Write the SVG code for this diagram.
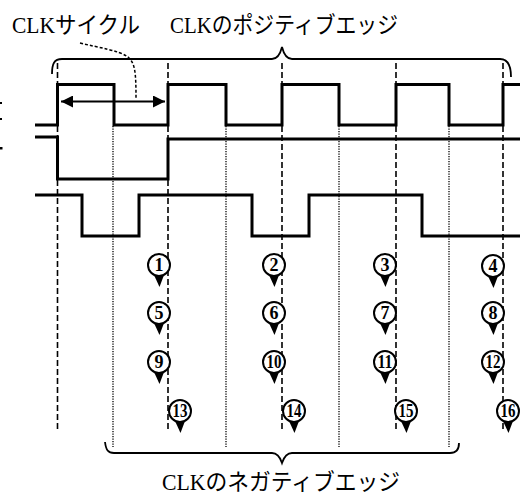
<svg xmlns="http://www.w3.org/2000/svg" xmlns:xlink="http://www.w3.org/1999/xlink" width="520" height="495" viewBox="0 0 520 495">
<style>
.sig{fill:none;stroke:#000;stroke-width:3;stroke-linejoin:miter;stroke-linecap:butt}
.dash{fill:none;stroke:#000;stroke-width:1.6;stroke-dasharray:6 3}
.dot{fill:none;stroke:#000;stroke-width:1.3;stroke-dasharray:1.3 1.2}
.brace{fill:none;stroke:#000;stroke-width:1.8}
.lbl{font-family:'Liberation Serif','Noto Sans CJK JP',serif;font-size:23px;fill:#000}
.num{font-family:'Liberation Serif',serif;font-weight:bold;font-size:18px;fill:#000;text-anchor:middle}
.pc{fill:#fff;stroke:#000;stroke-width:2}
</style>
<defs>
<g id="pinShape">
<path d="M-5,10 L5,10 L0.5,22 Z" fill="#000"/>
<circle cx="0" cy="0" r="11" class="pc"/>
</g>
<marker id="ah" viewBox="0 0 12 12" refX="12" refY="6" markerWidth="12" markerHeight="12" markerUnits="userSpaceOnUse" orient="auto-start-reverse">
<path d="M0,0 L12,6 L0,12 Z" fill="#000"/>
</marker>
</defs>
<rect width="520" height="495" fill="#fff"/>

<g id="edges">
<path class="dash" d="M57.5,63 V431 M168,63 V431 M282,63 V431 M396,63 V431 M503,63 V431"/>
<path class="dot" d="M113,126 V447 M226,126 V447 M339,126 V447 M449,126 V447"/>
</g>

<g id="signals">
<path id="clk" class="sig" d="M35,125 H57.5 V84.5 H114 V125 H168 V84.5 H226 V125 H282 V84.5 H339 V125 H396 V84.5 H449 V125 H503 V84.5 H522"/>
<path id="sig2" class="sig" d="M35,137 H57.5 V179 H168 V139 H522"/>
<path id="sig3" class="sig" d="M35,195 H82 V236 H139 V195 H252 V236 H309 V195 H422 V236 H522"/>
</g>

<g id="connectors">
<path class="brace" d="M52,74 C52,64 54,59 62,59 H272 C277,59 280,55 282,47 C284,55 287,59 292,59 H500 C507,59 511,65 511,77"/>
<path class="brace" d="M105,442 C106,450 108,453 114,453 H272 C277,453 280,457 282,463 C284,457 287,453 292,453 H450 C456,453 459,450 459,443"/>
<line x1="61" y1="101.5" x2="165" y2="101.5" stroke="#000" stroke-width="2" marker-start="url(#ah)" marker-end="url(#ah)"/>
<path d="M80,43 C100,48 118,50 128,57 C135,63 136,72 136,98" fill="none" stroke="#000" stroke-width="1.5" stroke-dasharray="3 2"/>
</g>

<g id="labels">
<text id="t-cycle" class="lbl" x="12" y="33" textLength="128" lengthAdjust="spacingAndGlyphs">CLKサイクル</text>
<text id="t-pos" class="lbl" x="170" y="33" textLength="228" lengthAdjust="spacingAndGlyphs">CLKのポジティブエッジ</text>
<text id="t-neg" class="lbl" x="162" y="490" textLength="238" lengthAdjust="spacingAndGlyphs">CLKのネガティブエッジ</text>
</g>

<g id="specks" fill="#000">
<rect x="0" y="102" width="2" height="2"/>
<rect x="0" y="118" width="2" height="2"/>
<rect x="0" y="147" width="2.5" height="2.5"/>
</g>

<g id="pins">
<g id="p1"><use xlink:href="#pinShape" x="159" y="265"/><text class="num" x="159" y="271">1</text></g>
<g id="p2"><use xlink:href="#pinShape" x="274" y="265"/><text class="num" x="274" y="271">2</text></g>
<g id="p3"><use xlink:href="#pinShape" x="385" y="265"/><text class="num" x="385" y="271">3</text></g>
<g id="p4"><use xlink:href="#pinShape" x="493" y="266"/><text class="num" x="493" y="272">4</text></g>
<g id="p5"><use xlink:href="#pinShape" x="159" y="313"/><text class="num" x="159" y="319">5</text></g>
<g id="p6"><use xlink:href="#pinShape" x="274" y="313"/><text class="num" x="274" y="319">6</text></g>
<g id="p7"><use xlink:href="#pinShape" x="385" y="313"/><text class="num" x="385" y="319">7</text></g>
<g id="p8"><use xlink:href="#pinShape" x="493" y="313"/><text class="num" x="493" y="319">8</text></g>
<g id="p9"><use xlink:href="#pinShape" x="159" y="362"/><text class="num" x="159" y="368">9</text></g>
<g id="p10"><use xlink:href="#pinShape" x="274" y="362"/><text class="num" x="274" y="368" textLength="15" lengthAdjust="spacingAndGlyphs">10</text></g>
<g id="p11"><use xlink:href="#pinShape" x="385" y="362"/><text class="num" x="385" y="368" textLength="15" lengthAdjust="spacingAndGlyphs">11</text></g>
<g id="p12"><use xlink:href="#pinShape" x="493" y="362"/><text class="num" x="493" y="368" textLength="15" lengthAdjust="spacingAndGlyphs">12</text></g>
<g id="p13"><use xlink:href="#pinShape" x="180" y="411"/><text class="num" x="180" y="417" textLength="15" lengthAdjust="spacingAndGlyphs">13</text></g>
<g id="p14"><use xlink:href="#pinShape" x="294" y="411"/><text class="num" x="294" y="417" textLength="15" lengthAdjust="spacingAndGlyphs">14</text></g>
<g id="p15"><use xlink:href="#pinShape" x="406" y="411"/><text class="num" x="406" y="417" textLength="15" lengthAdjust="spacingAndGlyphs">15</text></g>
<g id="p16"><use xlink:href="#pinShape" x="508" y="411"/><text class="num" x="508" y="417" textLength="15" lengthAdjust="spacingAndGlyphs">16</text></g>
</g>
</svg>
